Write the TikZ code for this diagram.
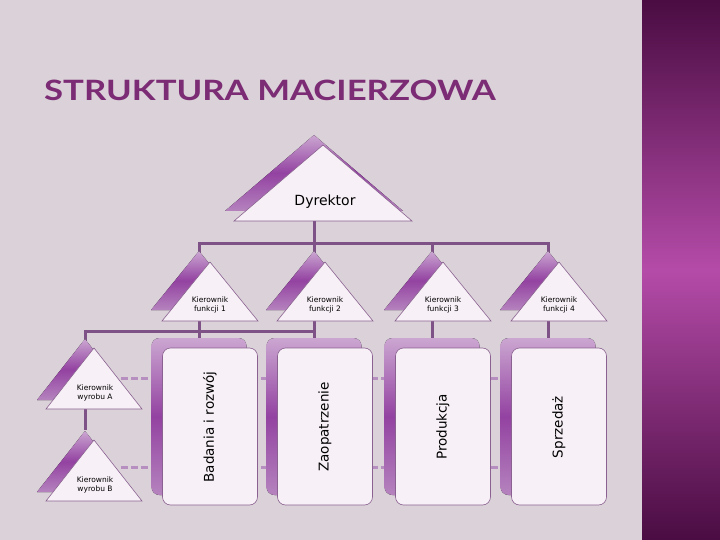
\documentclass[tikz,border=0pt]{standalone}
\usepackage{fontspec}
\setsansfont{DejaVu Sans}
\newfontfamily\titlefont{Lato}
\usetikzlibrary{positioning,calc}
\definecolor{bgpink}{HTML}{DBD2D9}
\definecolor{stripdark}{HTML}{4A0C42}
\definecolor{stripmag}{HTML}{B44BA8}
\definecolor{titlepurple}{HTML}{7B2C74}
\definecolor{linkpurple}{HTML}{7E5286}
\definecolor{dashpurple}{HTML}{B78EC0}
\definecolor{shadtop}{HTML}{CBA6D1}
\definecolor{shadmid}{HTML}{9342A1}
\definecolor{shadbot}{HTML}{B583BE}
\definecolor{frontwhite}{HTML}{F7F0F6}
\definecolor{framepurple}{HTML}{8A6190}

\begin{document}
\begin{tikzpicture}[x=1pt,y=-1pt]
        \tikzstyle{link}=[draw=linkpurple, line width=3pt]
        \tikzstyle{dashlink}=[draw=dashpurple, line width=3pt, dash pattern=on 7pt off 3pt]
        \tikzstyle{backshade}=[top color=shadtop, bottom color=shadbot, middle color=shadmid]
        \tikzstyle{front}=[draw=framepurple, fill=frontwhite, line width=0.6pt]
        \tikzstyle{small}=[font=\sffamily\fontsize{7.5}{9}\selectfont, align=center, inner sep=0pt]

        % Background and side strip
        \fill[bgpink] (0,0) rectangle (720,540);
        \shade[top color=stripdark, bottom color=stripdark, middle color=stripmag] (642,0) rectangle (720,540);

        % Title
        \node[titlepurple, inner sep=0pt, font=\titlefont\bfseries\fontsize{28}{32}\selectfont] (title) at (270,90) {\scalebox{1.24}[1]{STRUKTURA MACIERZOWA}};

        % Connector points (top of each back shape)
        \coordinate (dir) at (314,136);
        \coordinate (hub) at (314,243);
        \coordinate (mhub) at (314,331);
        \coordinate (pA) at (85,339);
        \coordinate (pB) at (85,430);
        \coordinate (dA) at (121,378);
        \coordinate (dAend) at (560,378);
        \coordinate (dB) at (121,467);
        \coordinate (dBend) at (560,467);
        \foreach \i/\x in {1/210,2/325,3/443,4/559}{
            \coordinate (f\i) at (\x-11,251);
            \coordinate (b\i) at (\x-11,338);
        }

        % Lines
        \draw[link] (dir) -- (hub);
        \draw[link] (f1) |- (hub) -| (f4);
        \draw[link] (hub) -| (f3);
        \draw[link] (hub) -- (f2);
        \foreach \i in {1,...,4}
            \draw[link] (f\i) -- (b\i);
        \draw[link] (mhub) -| (pA);
        \draw[link] (pA) -- (pB);
        \draw[dashlink] (dA) -- (dAend);
        \draw[dashlink] (dB) -- (dBend);

        % Director
        \fill[backshade] (314,135) -- (225,211) -- (403,211) -- cycle;
        \draw[front] (323,145) -- (234,221) -- (412,221) -- cycle;
        \node[font=\sffamily\fontsize{14}{16}\selectfont, inner sep=0pt] (dyr) at (325,202) {Dyrektor};

        % Function managers and departments
        \foreach \i/\x/\dept in {1/210/{Badania i rozwój},2/325/Zaopatrzenie,3/443/Produkcja,4/559/Sprzedaż}{
            \fill[backshade] (\x-11,251) -- (\x-59,310) -- (\x+37,310) -- cycle;
            \draw[front] (\x,262) -- (\x-48,321) -- (\x+48,321) -- cycle;
            \node[small] (kf\i) at (\x,305) {Kierownik\\funkcji \i};

            \fill[backshade, rounded corners=8pt] (\x-58.5,338) rectangle (\x+36.5,495);
            \draw[front, rounded corners=8pt] (\x-47.5,348) rectangle (\x+47.5,505);
            \node[rotate=90, font=\sffamily\fontsize{13.5}{15}\selectfont, inner sep=0pt] (dept\i) at (\x,427) {\dept};
        }

        % Product managers
        \foreach \p/\y in {A/348,B/440}{
            \fill[backshade] (85,\y-9) -- (37,\y+52) -- (133,\y+52) -- cycle;
            \draw[front] (94,\y) -- (46,\y+61) -- (142,\y+61) -- cycle;
            \node[small] (kw\p) at (95,\y+45) {Kierownik\\wyrobu \p};
        }
\end{tikzpicture}
\end{document}
